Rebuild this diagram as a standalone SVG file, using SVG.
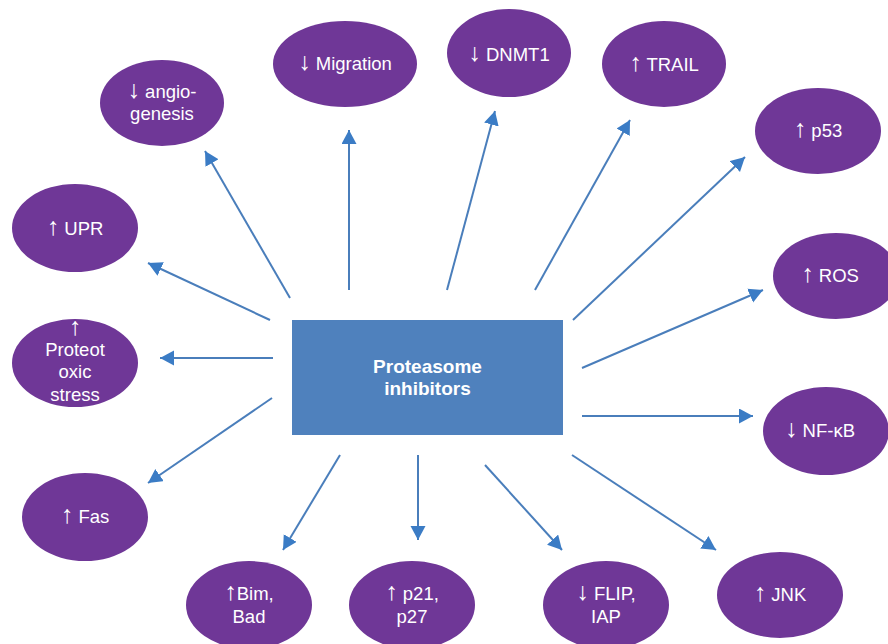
<svg xmlns="http://www.w3.org/2000/svg" width="888" height="644" viewBox="0 0 888 644">
<style>
.n{fill:#6f3797}
.t{fill:#ffffff;font-family:"Liberation Sans",Arial,sans-serif;font-size:18.5px;text-anchor:middle}
.a{font-size:25px}
.b{fill:#ffffff;font-family:"Liberation Sans",Arial,sans-serif;font-size:19px;font-weight:bold;text-anchor:middle}
.c line{stroke:#4a7ebb;stroke-width:2;marker-end:url(#ah)}
</style>
<defs>
<marker id="ah" markerUnits="userSpaceOnUse" markerWidth="15" markerHeight="16" refX="14" refY="7.5" orient="auto" viewBox="0 0 15 16">
<path d="M0,0 L14,7.5 L0,15 z" fill="#3b7cc5"/>
</marker>
</defs>
<rect width="888" height="644" fill="#ffffff"/>
<g id="connectors" class="c">
<line x1="290" y1="298" x2="205" y2="151"/>
<line x1="349" y1="290" x2="349" y2="130"/>
<line x1="447" y1="290" x2="495" y2="111"/>
<line x1="535" y1="290" x2="630" y2="120"/>
<line x1="573" y1="320" x2="745" y2="157"/>
<line x1="582" y1="368" x2="763" y2="290"/>
<line x1="582" y1="416" x2="753" y2="416"/>
<line x1="572" y1="455" x2="716" y2="550"/>
<line x1="485" y1="465" x2="562" y2="550"/>
<line x1="418" y1="455" x2="418" y2="540"/>
<line x1="340" y1="455" x2="283" y2="550"/>
<line x1="272" y1="398" x2="148" y2="483"/>
<line x1="273" y1="358" x2="160" y2="358"/>
<line x1="270" y1="320" x2="148" y2="263"/>
</g>
<g id="center">
<rect x="292" y="320" width="271" height="115" fill="#4f81bd"/>
<text class="b" x="427.5" y="373">Proteasome</text>
<text class="b" x="427.5" y="395">inhibitors</text>
</g>
<g id="angiogenesis">
<ellipse class="n" cx="162" cy="103" rx="62" ry="43"/>
<text class="t" x="162" y="98"><tspan class="a">↓</tspan> angio-</text>
<text class="t" x="162" y="120">genesis</text>
</g>
<g id="migration">
<ellipse class="n" cx="345" cy="64" rx="72" ry="43"/>
<text class="t" x="345" y="70"><tspan class="a">↓</tspan> Migration</text>
</g>
<g id="dnmt1">
<ellipse class="n" cx="509" cy="53" rx="62" ry="44"/>
<text class="t" x="509" y="61"><tspan class="a">↓</tspan> DNMT1</text>
</g>
<g id="trail">
<ellipse class="n" cx="664" cy="64" rx="62" ry="43"/>
<text class="t" x="664" y="71"><tspan class="a">↑</tspan> TRAIL</text>
</g>
<g id="p53">
<ellipse class="n" cx="818" cy="131" rx="63" ry="43"/>
<text class="t" x="818" y="137"><tspan class="a">↑</tspan> p53</text>
</g>
<g id="ros">
<ellipse class="n" cx="836" cy="276" rx="63" ry="43"/>
<text class="t" x="830" y="282"><tspan class="a">↑</tspan> ROS</text>
</g>
<g id="nfkb">
<ellipse class="n" cx="826" cy="431" rx="63" ry="44"/>
<text class="t" x="820" y="437"><tspan class="a">↓</tspan> NF-κB</text>
</g>
<g id="jnk">
<ellipse class="n" cx="780" cy="595" rx="63" ry="43"/>
<text class="t" x="780" y="601"><tspan class="a">↑</tspan> JNK</text>
</g>
<g id="flip">
<ellipse class="n" cx="606" cy="605" rx="63" ry="44"/>
<text class="t" x="606" y="600"><tspan class="a">↓</tspan> FLIP,</text>
<text class="t" x="606" y="623">IAP</text>
</g>
<g id="p21">
<ellipse class="n" cx="412" cy="605" rx="63" ry="44"/>
<text class="t" x="412" y="600"><tspan class="a">↑</tspan> p21,</text>
<text class="t" x="412" y="623">p27</text>
</g>
<g id="bim">
<ellipse class="n" cx="249" cy="605" rx="63" ry="44"/>
<text class="t" x="249" y="600"><tspan class="a">↑</tspan>Bim,</text>
<text class="t" x="249" y="623">Bad</text>
</g>
<g id="fas">
<ellipse class="n" cx="85" cy="517" rx="63" ry="44"/>
<text class="t" x="85" y="523"><tspan class="a">↑</tspan> Fas</text>
</g>
<g id="proteotoxic">
<ellipse class="n" cx="75" cy="363" rx="63" ry="44"/>
<text class="t" x="75" y="335"><tspan class="a">↑</tspan></text>
<text class="t" x="75" y="356">Proteot</text>
<text class="t" x="75" y="378">oxic</text>
<text class="t" x="75" y="401">stress</text>
</g>
<g id="upr">
<ellipse class="n" cx="75" cy="228" rx="63" ry="44"/>
<text class="t" x="75" y="235"><tspan class="a">↑</tspan> UPR</text>
</g>
</svg>
